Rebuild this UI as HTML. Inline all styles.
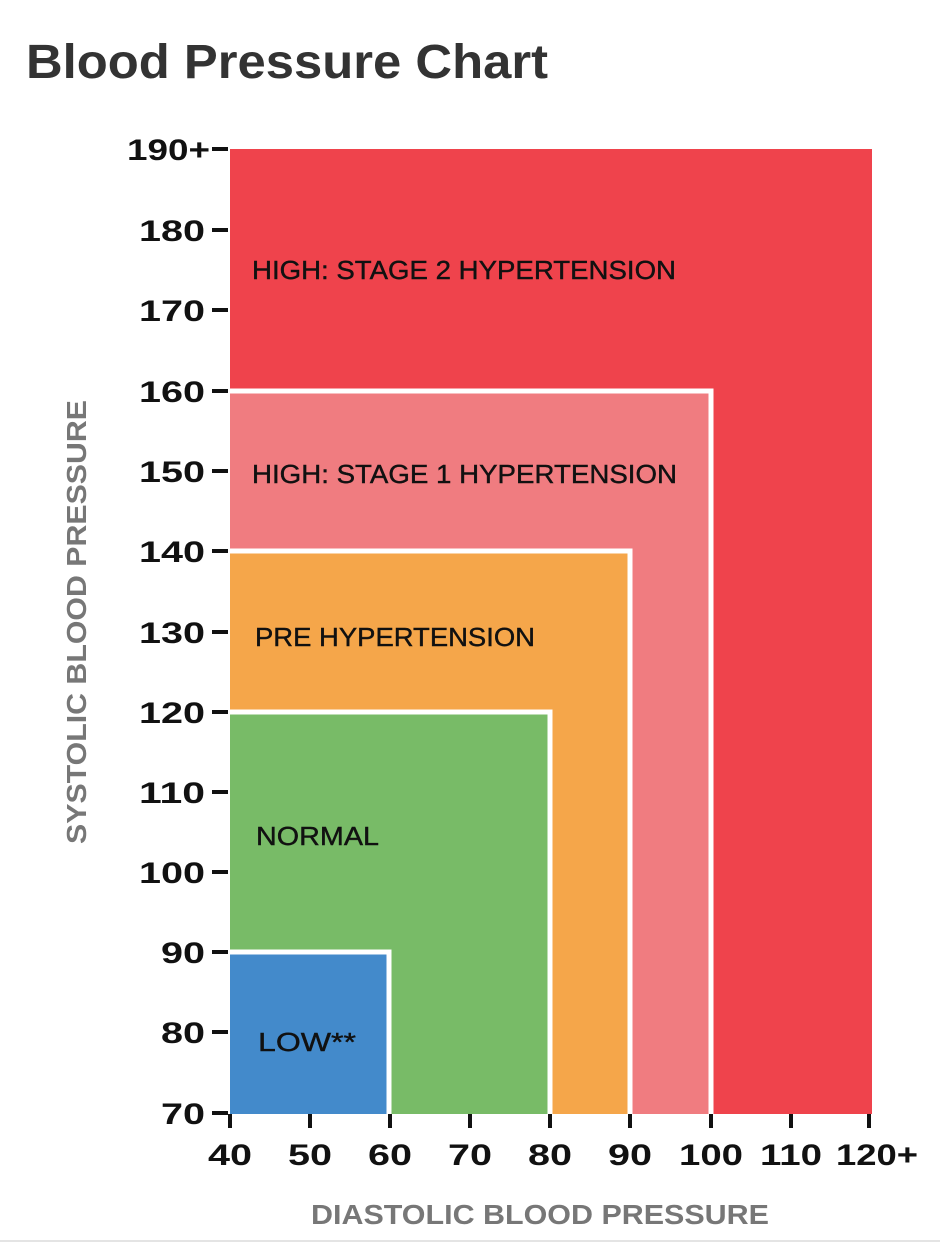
<!DOCTYPE html>
<html><head><meta charset="utf-8"><style>
html,body{margin:0;padding:0;background:#fff;width:940px;height:1246px;overflow:hidden}
svg{display:block}
</style></head><body>
<svg width="940" height="1246" viewBox="0 0 940 1246" xmlns="http://www.w3.org/2000/svg" font-family="Liberation Sans, sans-serif">
<text x="26" y="78" font-size="48" font-weight="bold" fill="#333" textLength="522" lengthAdjust="spacingAndGlyphs">Blood Pressure Chart</text>
<rect x="230" y="149" width="642" height="965" fill="#ef434c"/>
<rect x="230" y="391" width="481" height="723" fill="#f07c80"/>
<rect x="230" y="551" width="400" height="563" fill="#f5a64a"/>
<rect x="230" y="712" width="320" height="402" fill="#78bb67"/>
<rect x="230" y="952" width="159" height="162" fill="#438acb"/>
<g fill="none" stroke="#fff" stroke-width="5">
<polyline points="228,391 711,391 711,1116"/>
<polyline points="228,551 630,551 630,1116"/>
<polyline points="228,712 550,712 550,1116"/>
<polyline points="228,952 389,952 389,1116"/>
</g>
<rect x="226" y="1114" width="650" height="2" fill="#fff"/>
<g fill="#111">
<rect x="212" y="147" width="16" height="4"/>
<rect x="212" y="228" width="16" height="4"/>
<rect x="212" y="308" width="16" height="4"/>
<rect x="212" y="389" width="16" height="4"/>
<rect x="212" y="469" width="16" height="4"/>
<rect x="212" y="549" width="16" height="4"/>
<rect x="212" y="630" width="16" height="4"/>
<rect x="212" y="710" width="16" height="4"/>
<rect x="212" y="790" width="16" height="4"/>
<rect x="212" y="870" width="16" height="4"/>
<rect x="212" y="950" width="16" height="4"/>
<rect x="212" y="1030" width="16" height="4"/>
<rect x="212" y="1111" width="16" height="4"/>
<rect x="228" y="1114" width="4" height="14"/>
<rect x="308" y="1114" width="4" height="14"/>
<rect x="388" y="1114" width="4" height="14"/>
<rect x="468" y="1114" width="4" height="14"/>
<rect x="548" y="1114" width="4" height="14"/>
<rect x="628" y="1114" width="4" height="14"/>
<rect x="709" y="1114" width="4" height="14"/>
<rect x="789" y="1114" width="4" height="14"/>
<rect x="867" y="1114" width="4" height="14"/>
</g>
<g font-size="30" font-weight="bold" fill="#111" text-anchor="end">
<text x="210" y="160" textLength="83" lengthAdjust="spacingAndGlyphs">190+</text>
<text x="205" y="241" textLength="66" lengthAdjust="spacingAndGlyphs">180</text>
<text x="205" y="321" textLength="66" lengthAdjust="spacingAndGlyphs">170</text>
<text x="205" y="402" textLength="66" lengthAdjust="spacingAndGlyphs">160</text>
<text x="205" y="482" textLength="66" lengthAdjust="spacingAndGlyphs">150</text>
<text x="205" y="562" textLength="66" lengthAdjust="spacingAndGlyphs">140</text>
<text x="205" y="643" textLength="66" lengthAdjust="spacingAndGlyphs">130</text>
<text x="205" y="723" textLength="66" lengthAdjust="spacingAndGlyphs">120</text>
<text x="205" y="803" textLength="66" lengthAdjust="spacingAndGlyphs">110</text>
<text x="205" y="883" textLength="66" lengthAdjust="spacingAndGlyphs">100</text>
<text x="205" y="963" textLength="44" lengthAdjust="spacingAndGlyphs">90</text>
<text x="205" y="1043" textLength="44" lengthAdjust="spacingAndGlyphs">80</text>
<text x="205" y="1124" textLength="44" lengthAdjust="spacingAndGlyphs">70</text>
</g>
<g font-size="30" font-weight="bold" fill="#111" text-anchor="middle">
<text x="230" y="1165" textLength="44" lengthAdjust="spacingAndGlyphs">40</text>
<text x="310" y="1165" textLength="44" lengthAdjust="spacingAndGlyphs">50</text>
<text x="390" y="1165" textLength="44" lengthAdjust="spacingAndGlyphs">60</text>
<text x="470" y="1165" textLength="44" lengthAdjust="spacingAndGlyphs">70</text>
<text x="550" y="1165" textLength="44" lengthAdjust="spacingAndGlyphs">80</text>
<text x="630" y="1165" textLength="44" lengthAdjust="spacingAndGlyphs">90</text>
<text x="711" y="1165" textLength="64" lengthAdjust="spacingAndGlyphs">100</text>
<text x="791" y="1165" textLength="62" lengthAdjust="spacingAndGlyphs">110</text>
<text x="877" y="1165" textLength="82" lengthAdjust="spacingAndGlyphs">120+</text>
</g>
<g font-size="26" fill="#111" stroke="#111" stroke-width="0.4">
<text x="252" y="279" textLength="424" lengthAdjust="spacingAndGlyphs">HIGH: STAGE 2 HYPERTENSION</text>
<text x="252" y="483" textLength="425" lengthAdjust="spacingAndGlyphs">HIGH: STAGE 1 HYPERTENSION</text>
<text x="255" y="646" textLength="280" lengthAdjust="spacingAndGlyphs">PRE HYPERTENSION</text>
<text x="256" y="845" textLength="123" lengthAdjust="spacingAndGlyphs">NORMAL</text>
<text x="258" y="1051" textLength="98" lengthAdjust="spacingAndGlyphs">LOW**</text>
</g>
<text x="540" y="1224" font-size="28" font-weight="bold" fill="#777" text-anchor="middle" textLength="458" lengthAdjust="spacingAndGlyphs">DIASTOLIC BLOOD PRESSURE</text>
<text transform="translate(86,622) rotate(-90)" font-size="28" font-weight="bold" fill="#777" text-anchor="middle" textLength="444" lengthAdjust="spacingAndGlyphs">SYSTOLIC BLOOD PRESSURE</text>
<rect x="0" y="1240" width="940" height="2" fill="#e4e4e4"/>
</svg>
</body></html>
